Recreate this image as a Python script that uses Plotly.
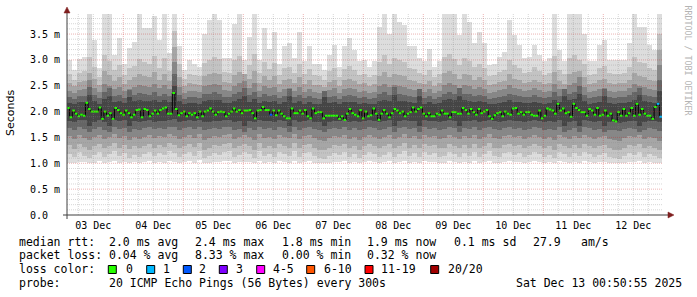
import plotly.graph_objects as go
from datetime import datetime, timedelta

# ---------------- data ----------------
start_time = datetime(2025, 12, 3, 1, 28, 48)
axis_end_time = datetime(2025, 12, 12, 23, 52, 48)
bucket_hours = 2

# smoke: nested bands (ms) per 2-hour bucket, outermost first
smoke_u1 = [3.00,2.80,3.02,3.05,3.88,3.38,2.85,3.88,3.88,3.10,
            3.42,2.93,3.24,3.35,3.88,3.61,3.61,3.84,3.38,3.88,
            3.13,3.88,3.26,2.80,3.00,2.93,2.86,3.51,3.77,3.88,
            3.77,3.03,3.03,3.70,3.88,3.00,3.45,3.88,3.00,3.61,
            3.22,3.54,2.93,3.26,3.32,3.03,3.54,2.97,3.26,2.93,
            2.93,2.80,3.10,3.29,2.86,3.26,3.42,3.19,2.97,3.00,
            2.86,2.97,3.64,3.88,3.51,3.88,3.74,3.67,3.26,3.26,
            3.03,2.97,3.22,2.86,2.97,3.88,3.88,3.88,3.48,3.88,
            3.74,3.32,3.54,3.32,2.90,2.93,3.06,3.16,3.77,3.48,
            3.29,3.03,3.06,3.29,3.10,2.97,3.03,3.88,3.19,2.97,
            3.88,3.88,3.88,3.51,2.97,2.97,3.29,3.38,3.00,3.00,
            3.00,3.00,3.32,3.88,3.64,3.64,3.29,3.19,3.88]
smoke_u2 = [2.72,2.62,2.75,2.78,3.05,2.86,2.66,3.10,2.98,2.80,
            2.90,2.70,2.84,2.88,3.02,2.95,2.92,3.08,2.85,3.04,
            2.78,3.55,2.92,2.64,2.72,2.70,2.68,2.94,3.00,3.06,
            3.02,2.76,2.74,3.00,3.08,2.72,2.90,3.12,2.74,2.96,
            2.82,2.94,2.70,2.84,2.86,2.74,2.92,2.72,2.82,2.70,
            2.68,2.62,2.78,2.84,2.66,2.82,2.88,2.80,2.70,2.72,
            2.66,2.70,2.96,3.10,2.92,3.04,3.00,2.96,2.84,2.82,
            2.74,2.70,2.80,2.66,2.72,3.06,3.12,3.02,2.90,3.04,
            2.98,2.86,2.92,2.84,2.68,2.70,2.76,2.80,3.00,2.90,
            2.84,2.74,2.76,2.86,2.78,2.70,2.74,3.08,2.80,2.72,
            3.04,3.10,3.00,2.92,2.70,2.72,2.84,2.88,2.74,2.72,
            2.72,2.74,2.86,3.06,2.96,2.94,2.84,2.80,3.50]
smoke_u3 = [2.56,2.50,2.58,2.60,2.74,2.64,2.52,2.78,2.70,2.60,
            2.66,2.54,2.62,2.66,2.72,2.68,2.66,2.76,2.62,2.72,
            2.60,3.25,2.66,2.50,2.56,2.54,2.52,2.68,2.72,2.74,
            2.72,2.58,2.56,2.70,2.76,2.72,2.64,2.78,2.56,2.68,
            2.62,2.68,2.54,2.62,2.64,2.56,2.66,2.54,2.62,2.52,
            2.52,2.48,2.58,2.62,2.50,2.62,2.64,2.60,2.54,2.56,
            2.50,2.54,2.68,2.76,2.66,2.72,2.70,2.68,2.62,2.60,
            2.56,2.54,2.60,2.50,2.56,2.74,2.78,2.72,2.64,2.72,
            2.70,2.62,2.66,2.62,2.52,2.54,2.58,2.60,2.72,2.64,
            2.62,2.56,2.58,2.62,2.58,2.54,2.56,2.76,2.60,2.54,
            2.72,2.76,2.78,2.66,2.54,2.56,2.62,2.64,2.56,2.54,
            2.56,2.56,2.62,2.74,2.68,2.66,2.62,2.60,3.20]
smoke_u4 = [2.40,2.36,2.42,2.44,2.62,2.46,2.38,2.54,2.50,2.44,
            2.48,2.40,2.44,2.48,2.52,2.50,2.48,2.54,2.46,2.52,
            2.44,2.95,2.48,2.36,2.40,2.40,2.38,2.50,2.52,2.54,
            2.52,2.42,2.40,2.50,2.56,2.60,2.46,2.56,2.40,2.50,
            2.46,2.48,2.38,2.44,2.46,2.40,2.48,2.38,2.44,2.38,
            2.36,2.34,2.42,2.46,2.36,2.44,2.46,2.44,2.38,2.40,
            2.36,2.38,2.50,2.54,2.48,2.52,2.50,2.48,2.44,2.42,
            2.40,2.38,2.44,2.36,2.40,2.52,2.56,2.52,2.46,2.52,
            2.50,2.44,2.48,2.44,2.36,2.38,2.42,2.44,2.52,2.46,
            2.44,2.40,2.42,2.46,2.42,2.38,2.40,2.54,2.44,2.38,
            2.52,2.56,2.66,2.48,2.38,2.40,2.44,2.46,2.40,2.38,
            2.40,2.40,2.46,2.54,2.50,2.48,2.44,2.42,2.90]
smoke_u5 = [2.28,2.25,2.30,2.31,2.48,2.32,2.26,2.38,2.45,2.30,
            2.33,2.27,2.42,2.33,2.36,2.34,2.33,2.37,2.31,2.35,
            2.30,2.72,2.33,2.25,2.28,2.28,2.26,2.34,2.35,2.37,
            2.35,2.29,2.28,2.34,2.38,2.46,2.32,2.38,2.28,2.34,
            2.31,2.33,2.26,2.30,2.44,2.28,2.33,2.26,2.30,2.26,
            2.25,2.40,2.29,2.31,2.25,2.30,2.32,2.30,2.26,2.28,
            2.25,2.26,2.34,2.37,2.33,2.48,2.34,2.33,2.30,2.29,
            2.44,2.26,2.30,2.25,2.28,2.35,2.38,2.35,2.46,2.35,
            2.34,2.30,2.33,2.30,2.25,2.26,2.29,2.30,2.35,2.32,
            2.30,2.28,2.29,2.32,2.29,2.26,2.28,2.37,2.30,2.44,
            2.35,2.38,2.50,2.33,2.26,2.28,2.30,2.44,2.28,2.26,
            2.28,2.28,2.32,2.37,2.46,2.33,2.30,2.29,2.62]
smoke_u6 = [2.16,2.14,2.18,2.19,2.32,2.20,2.15,2.24,2.30,2.18,
            2.20,2.16,2.28,2.20,2.22,2.21,2.20,2.23,2.18,2.22,
            2.18,2.50,2.20,2.14,2.16,2.16,2.15,2.21,2.22,2.23,
            2.22,2.17,2.16,2.21,2.24,2.30,2.19,2.24,2.16,2.21,
            2.18,2.20,2.15,2.18,2.30,2.16,2.20,2.15,2.18,2.15,
            2.14,2.28,2.17,2.18,2.14,2.18,2.19,2.18,2.15,2.16,
            2.14,2.15,2.21,2.23,2.20,2.32,2.21,2.20,2.18,2.17,
            2.30,2.15,2.18,2.14,2.16,2.22,2.24,2.22,2.30,2.22,
            2.21,2.18,2.20,2.18,2.14,2.15,2.17,2.18,2.22,2.19,
            2.18,2.16,2.17,2.19,2.17,2.15,2.16,2.23,2.18,2.30,
            2.22,2.24,2.34,2.20,2.15,2.16,2.18,2.30,2.16,2.15,
            2.16,2.16,2.19,2.23,2.32,2.20,2.18,2.17,2.40]
smoke_l6 = [1.82,1.80,1.83,1.84,1.72,1.79,1.83,1.80,1.72,1.84,
            1.81,1.83,1.72,1.82,1.79,1.81,1.83,1.80,1.82,1.81,
            1.84,1.86,1.80,1.82,1.83,1.81,1.84,1.80,1.79,1.82,
            1.81,1.83,1.84,1.80,1.81,1.72,1.82,1.79,1.84,1.81,
            1.82,1.80,1.83,1.82,1.72,1.84,1.80,1.82,1.83,1.80,
            1.79,1.72,1.80,1.82,1.81,1.83,1.80,1.82,1.79,1.81,
            1.83,1.82,1.80,1.81,1.83,1.72,1.82,1.84,1.81,1.82,
            1.72,1.83,1.81,1.82,1.80,1.81,1.83,1.82,1.72,1.82,
            1.81,1.83,1.80,1.82,1.84,1.81,1.80,1.82,1.83,1.81,
            1.82,1.80,1.81,1.83,1.82,1.80,1.81,1.79,1.83,1.72,
            1.80,1.82,1.72,1.83,1.82,1.80,1.81,1.72,1.80,1.79,
            1.78,1.80,1.82,1.81,1.72,1.80,1.82,1.81,1.80]
smoke_l5 = [1.68,1.65,1.70,1.66,1.60,1.67,1.70,1.65,1.60,1.71,
            1.66,1.69,1.60,1.67,1.65,1.68,1.70,1.66,1.69,1.67,
            1.71,1.70,1.65,1.68,1.70,1.66,1.71,1.64,1.66,1.69,
            1.67,1.70,1.71,1.65,1.67,1.60,1.68,1.64,1.71,1.66,
            1.68,1.65,1.70,1.68,1.60,1.71,1.65,1.69,1.70,1.66,
            1.64,1.60,1.66,1.69,1.67,1.70,1.65,1.68,1.64,1.67,
            1.70,1.68,1.65,1.67,1.70,1.60,1.68,1.71,1.66,1.69,
            1.60,1.70,1.67,1.69,1.65,1.66,1.70,1.68,1.60,1.69,
            1.66,1.70,1.65,1.68,1.71,1.66,1.65,1.69,1.70,1.67,
            1.69,1.65,1.67,1.70,1.68,1.65,1.67,1.64,1.70,1.60,
            1.65,1.69,1.60,1.70,1.68,1.65,1.67,1.60,1.65,1.64,
            1.63,1.66,1.69,1.67,1.60,1.65,1.68,1.66,1.62]
smoke_l4 = [1.52,1.47,1.55,1.49,1.45,1.50,1.54,1.47,1.51,1.56,
            1.48,1.53,1.46,1.50,1.47,1.51,1.55,1.48,1.53,1.50,
            1.56,1.52,1.47,1.51,1.54,1.49,1.56,1.45,1.48,1.53,
            1.50,1.55,1.56,1.47,1.50,1.54,1.51,1.45,1.56,1.48,
            1.51,1.47,1.54,1.51,1.48,1.56,1.47,1.52,1.55,1.48,
            1.45,1.44,1.48,1.53,1.50,1.55,1.47,1.51,1.45,1.50,
            1.54,1.51,1.47,1.50,1.54,1.47,1.51,1.56,1.48,1.53,
            1.47,1.55,1.50,1.53,1.47,1.48,1.55,1.51,1.47,1.53,
            1.48,1.55,1.47,1.51,1.56,1.48,1.47,1.53,1.55,1.50,
            1.53,1.47,1.50,1.55,1.51,1.47,1.50,1.45,1.55,1.51,
            1.47,1.53,1.48,1.55,1.51,1.47,1.50,1.53,1.47,1.45,
            1.44,1.48,1.53,1.50,1.55,1.47,1.51,1.48,1.44]
smoke_l3 = [1.35,1.28,1.38,1.31,1.26,1.33,1.37,1.29,1.34,1.40,
            1.30,1.36,1.27,1.33,1.29,1.34,1.38,1.30,1.36,1.32,
            1.40,1.35,1.29,1.34,1.38,1.31,1.40,1.26,1.30,1.36,
            1.33,1.38,1.40,1.29,1.33,1.38,1.34,1.26,1.40,1.30,
            1.34,1.29,1.38,1.34,1.30,1.40,1.29,1.35,1.38,1.30,
            1.26,1.25,1.30,1.36,1.33,1.38,1.29,1.34,1.26,1.33,
            1.38,1.34,1.29,1.33,1.38,1.29,1.34,1.40,1.30,1.36,
            1.29,1.38,1.33,1.36,1.29,1.30,1.38,1.34,1.29,1.36,
            1.30,1.38,1.29,1.34,1.40,1.30,1.29,1.36,1.38,1.33,
            1.36,1.29,1.33,1.38,1.34,1.29,1.33,1.26,1.38,1.34,
            1.29,1.36,1.30,1.38,1.34,1.29,1.33,1.36,1.29,1.26,
            1.25,1.30,1.36,1.33,1.38,1.29,1.34,1.30,1.25]
smoke_l2 = [1.18,1.12,1.22,1.15,1.10,1.17,1.21,1.13,1.18,1.24,
            1.14,1.20,1.11,1.17,1.13,1.18,1.22,1.14,1.20,1.16,
            1.24,1.19,1.13,1.18,1.22,1.15,1.24,1.10,1.14,1.20,
            1.17,1.22,1.24,1.13,1.17,1.22,1.18,1.10,1.24,1.14,
            1.18,1.13,1.22,1.18,1.14,1.24,1.13,1.19,1.22,1.14,
            1.10,1.09,1.14,1.20,1.17,1.22,1.13,1.18,1.10,1.17,
            1.22,1.18,1.13,1.17,1.22,1.13,1.18,1.24,1.14,1.20,
            1.13,1.22,1.17,1.20,1.13,1.14,1.22,1.18,1.13,1.20,
            1.14,1.22,1.13,1.18,1.24,1.14,1.13,1.20,1.22,1.17,
            1.20,1.13,1.17,1.22,1.18,1.13,1.17,1.10,1.22,1.18,
            1.13,1.20,1.14,1.22,1.18,1.13,1.17,1.20,1.13,1.10,
            1.09,1.14,1.20,1.17,1.22,1.13,1.18,1.14,1.10]
smoke_l1 = [1.01,1.00,1.03,1.02,1.00,1.01,1.04,1.00,1.02,1.05,
            1.01,1.03,1.00,1.02,1.01,1.02,1.04,1.00,1.03,1.01,
            1.05,1.02,1.00,1.02,1.04,1.01,1.06,1.00,1.01,1.03,
            1.02,1.04,1.05,1.00,1.02,1.03,1.02,1.00,1.05,1.01,
            1.02,1.00,1.04,1.02,1.01,1.05,1.00,1.03,1.04,1.01,
            1.00,1.00,1.01,1.03,1.02,1.04,1.00,1.02,1.00,1.02,
            1.04,1.02,1.00,1.02,1.04,1.00,1.02,1.05,1.01,1.03,
            1.00,1.04,1.02,1.03,1.00,1.01,1.04,1.02,1.00,1.03,
            1.01,1.04,1.00,1.02,1.05,1.01,1.00,1.03,1.04,1.02,
            1.03,1.00,1.02,1.04,1.02,1.00,1.02,1.00,1.04,1.02,
            1.00,1.03,1.01,1.04,1.02,1.00,1.02,1.03,1.00,1.00,
            1.00,1.01,1.03,1.02,1.04,1.00,1.02,1.01,1.00]
smoke_colors = ["#dddddd", "#c3c3c3", "#a6a6a6", "#878787", "#656565", "#454545"]

# median rtt (ms), one value per step across the whole window
median_ms = [2.07,1.89,2.02,1.96,1.91,1.94,1.92,2.17,2.05,2.00,2.00,2.00,2.08,1.86,2.00,1.92,1.97,1.86,2.07,2.03,
             1.97,1.94,2.02,1.97,1.89,1.94,2.03,2.04,1.89,2.05,2.03,1.91,1.96,2.02,1.96,2.03,2.06,2.08,1.96,1.96,
             2.36,2.05,1.93,1.97,2.00,1.91,1.97,1.94,1.97,1.89,2.00,1.91,2.00,2.02,2.06,2.00,
             1.94,1.99,2.00,1.99,1.91,1.96,2.00,2.06,2.00,2.03,1.97,2.02,2.02,2.03,1.97,1.87,2.02,2.03,2.09,2.03,
             2.03,1.94,2.02,1.93,2.02,1.96,1.91,1.87,1.87,2.06,1.97,1.97,2.02,1.96,2.03,1.91,1.87,2.06,1.97,1.99,
             1.99,1.87,1.92,1.92,1.92,1.92,1.92,1.86,1.91,1.84,1.96,2.05,1.97,1.94,1.91,2.03,1.87,2.00,1.91,
             1.93,2.06,1.96,1.84,1.96,2.03,1.96,1.89,1.97,2.05,2.02,1.97,2.00,1.91,1.96,1.99,2.08,2.00,2.05,2.08,
             1.96,1.91,1.97,1.91,1.91,1.96,1.94,2.02,1.96,1.96,1.89,1.99,1.99,1.96,1.96,2.07,2.03,1.96,2.05,1.99,
             1.94,2.05,1.97,2.00,2.03,1.91,1.86,1.93,1.97,1.99,1.91,2.00,1.96,1.94,2.06,
             2.07,1.96,1.99,1.94,1.99,1.99,1.94,1.92,1.92,2.02,1.87,1.92,2.06,2.04,2.02,1.96,2.15,2.02,2.06,1.97,
             1.99,1.90,2.15,2.07,2.03,1.99,1.99,1.92,2.05,2.02,1.94,2.07,1.92,1.94,2.02,1.92,1.96,1.83,1.81,1.99,
             1.92,2.05,1.92,1.97,2.07,1.92,2.15,1.94,2.05,1.96,1.92,1.92,1.86,2.09,2.15,1.90]
# pings lost (of 20) for the steps that had any loss: {step index: lost}
median_loss_events = {77: 2, 224: 1, 225: 1}

loss_labels = ["0", "1", "2", "3", "4-5", "6-10", "11-19", "20/20"]
loss_lower = [0, 1, 2, 3, 4, 6, 11, 20]
loss_colors = ["#26ff00", "#00b8ff", "#0059ff", "#7e00ff", "#ff00ff", "#ff5500", "#ff0000", "#a10000"]

day_tick_times = ["2025-12-%02d 12:00" % d for d in range(3, 13)]
day_tick_text = ["03 Dec", "04 Dec", "05 Dec", "06 Dec", "07 Dec",
                 "08 Dec", "09 Dec", "10 Dec", "11 Dec", "12 Dec"]
y_tick_vals = [0.0, 0.5, 1.0, 1.5, 2.0, 2.5, 3.0, 3.5]
y_tick_text = ["0.0\u00a0\u00a0", "0.5 m", "1.0 m", "1.5 m", "2.0 m", "2.5 m", "3.0 m", "3.5 m"]
y_max = 3.888

stats_rows = [
    ("median rtt:", [("2.0 ms avg", 107.3), ("2.4 ms max", 193.3), ("1.8 ms min", 280.0),
                     ("1.9 ms now", 365.0), ("0.1 ms sd", 451.7), ("27.9", 530.7), ("am/s", 579.3)], 241.5),
    ("packet loss:", [("0.04 % avg", 107.3), ("8.33 % max", 193.3), ("0.00 % min", 280.0),
                      ("0.32 % now", 365.0)], 255.0),
]
probe_text = "20 ICMP Echo Pings (56 Bytes) every 300s"
date_text = "Sat Dec 13 00:50:55 2025"

# ---------------- layout geometry ----------------
W, H = 697, 297
PL, PR, PT, PB = 67, 663, 14, 215


def xp(px):
    return (px - PL) / (PR - PL)


def yp(py):
    return (PB - py) / (PB - PT)


MONO = "DejaVu Sans Mono"
fig = go.Figure()

# smoke
n = len(smoke_u1)
bucket = timedelta(hours=bucket_hours)
centers = [start_time + bucket * (i + 0.5) for i in range(n)]
bar_w = bucket_hours * 3600 * 1000 * 1.04
bands = [(smoke_l1, smoke_u1), (smoke_l2, smoke_u2), (smoke_l3, smoke_u3),
         (smoke_l4, smoke_u4), (smoke_l5, smoke_u5), (smoke_l6, smoke_u6)]
for (lo, hi), col in zip(bands, smoke_colors):
    fig.add_trace(go.Bar(x=centers, y=[h - l for h, l in zip(hi, lo)], base=lo, width=bar_w,
                         marker=dict(color=col, line=dict(width=0)),
                         hoverinfo="skip", showlegend=False))

# median
end_data = start_time + bucket * n
m = len(median_ms)
step = (end_data - start_time) / m
starts = [start_time + step * j for j in range(m)]
fig.add_trace(go.Scatter(x=starts + [end_data], y=median_ms + [median_ms[-1]], mode="lines",
                         line=dict(color="#000000", width=1, shape="hv"),
                         hoverinfo="skip", showlegend=False))


def loss_class(lost):
    c = 0
    for i, lo in enumerate(loss_lower):
        if lost >= lo:
            c = i
    return c


classes = [loss_class(median_loss_events.get(j, 0)) for j in range(m)]
for ci, col in enumerate(loss_colors):
    xs, ys = [], []
    for j in range(m):
        if classes[j] == ci:
            xs += [starts[j], starts[j] + step, None]
            ys += [median_ms[j], median_ms[j], None]
    if xs:
        fig.add_trace(go.Scatter(x=xs, y=ys, mode="lines", line=dict(color=col, width=2),
                                 hoverinfo="skip", showlegend=False))

# grid (drawn above the smoke like rrdtool)
shapes = []
minor_col = "rgba(140,140,140,0.35)"
major_col = "rgba(200,40,40,0.35)"
t = datetime(2025, 12, 3)
while t <= axis_end_time:
    if t >= start_time:
        major = (t.hour == 0)
        shapes.append(dict(type="line", xref="x", yref="paper", x0=t, x1=t, y0=0, y1=1, layer="above",
                           line=dict(color=major_col if major else minor_col, width=1, dash="1px,1px")))
    t += timedelta(hours=6)
for k in range(1, 39):
    v = k / 10
    major = (k % 5 == 0)
    shapes.append(dict(type="line", xref="paper", yref="y", x0=0, x1=1, y0=v, y1=v, layer="above",
                       line=dict(color=major_col if major else minor_col, width=1, dash="1px,1px")))

# axes lines + arrows
axis_col = "#404040"
arrow_col = "#7f1f1f"
shapes.append(dict(type="line", xref="paper", yref="paper", x0=xp(63), x1=xp(669), y0=0, y1=0,
                   line=dict(color=axis_col, width=1), layer="above"))
shapes.append(dict(type="line", xref="paper", yref="paper", x0=0, x1=0, y0=yp(219), y1=yp(11),
                   line=dict(color=axis_col, width=1), layer="above"))
shapes.append(dict(type="path", xref="paper", yref="paper",
                   path="M %f %f L %f %f L %f %f Z" % (xp(64), yp(13), xp(70), yp(13), xp(67), yp(7)),
                   fillcolor=arrow_col, line=dict(color=arrow_col, width=0.5), layer="above"))
shapes.append(dict(type="path", xref="paper", yref="paper",
                   path="M %f %f L %f %f L %f %f Z" % (xp(668), yp(212), xp(668), yp(218), xp(674), yp(215)),
                   fillcolor=arrow_col, line=dict(color=arrow_col, width=0.5), layer="above"))

# legend boxes
box_x = [108.3, 146.7, 183.3, 219.3, 256.7, 306.7, 365.0, 430.7]
txt_x = [124.0, 160.7, 197.3, 234.0, 270.7, 321.7, 379.3, 446.0]
for bx, col in zip(box_x, loss_colors):
    shapes.append(dict(type="rect", xref="paper", yref="paper", x0=xp(bx), x1=xp(bx + 8),
                       y0=yp(273.5), y1=yp(265.5), fillcolor=col, line=dict(color="#000000", width=1)))

ann = []


def text(s, px, py, size=11.5, color="#000000", family=MONO, angle=0, xanchor="left"):
    ann.append(dict(text=s, x=xp(px), y=yp(py), xref="paper", yref="paper", showarrow=False,
                    xanchor=xanchor, yanchor="middle", textangle=angle,
                    font=dict(family=family, size=size, color=color)))


for label, items, py in stats_rows:
    text(label, 16.7, py)
    for s, px in items:
        text(s, px, py)
text("loss color:", 16.7, 269.3)
for lab, px in zip(loss_labels, txt_x):
    text(lab, px, 269.3)
text("probe:", 16.7, 282.7)
text(probe_text, 107.3, 282.7)
text(date_text, 514.0, 282.7)
text("Seconds", 10.5, 113.5, size=11, family="DejaVu Sans", angle=-90, xanchor="center")
text("RRDTOOL / TOBI OETIKER", 687.5, 60.0, size=8.3, color="#b4b4b4", angle=90, xanchor="center")

fig.update_layout(
    width=W, height=H,
    margin=dict(l=PL, r=W - PR, t=PT, b=H - PB, pad=0),
    paper_bgcolor="#ffffff", plot_bgcolor="#ffffff",
    barmode="overlay", bargap=0,
    showlegend=False,
    shapes=shapes, annotations=ann,
    xaxis=dict(type="date", range=[start_time, axis_end_time], tickmode="array",
               tickvals=day_tick_times, ticktext=day_tick_text, showgrid=False, zeroline=False,
               showline=False, ticks="", tickfont=dict(family=MONO, size=10, color="#000000"),
               ticklabelstandoff=3, fixedrange=True),
    yaxis=dict(range=[0, y_max], tickmode="array", tickvals=y_tick_vals, ticktext=y_tick_text,
               showgrid=False, zeroline=False, showline=False, ticks="",
               tickfont=dict(family=MONO, size=10, color="#000000"), ticklabelstandoff=6,
               fixedrange=True),
)

fig.write_html("out.html")
